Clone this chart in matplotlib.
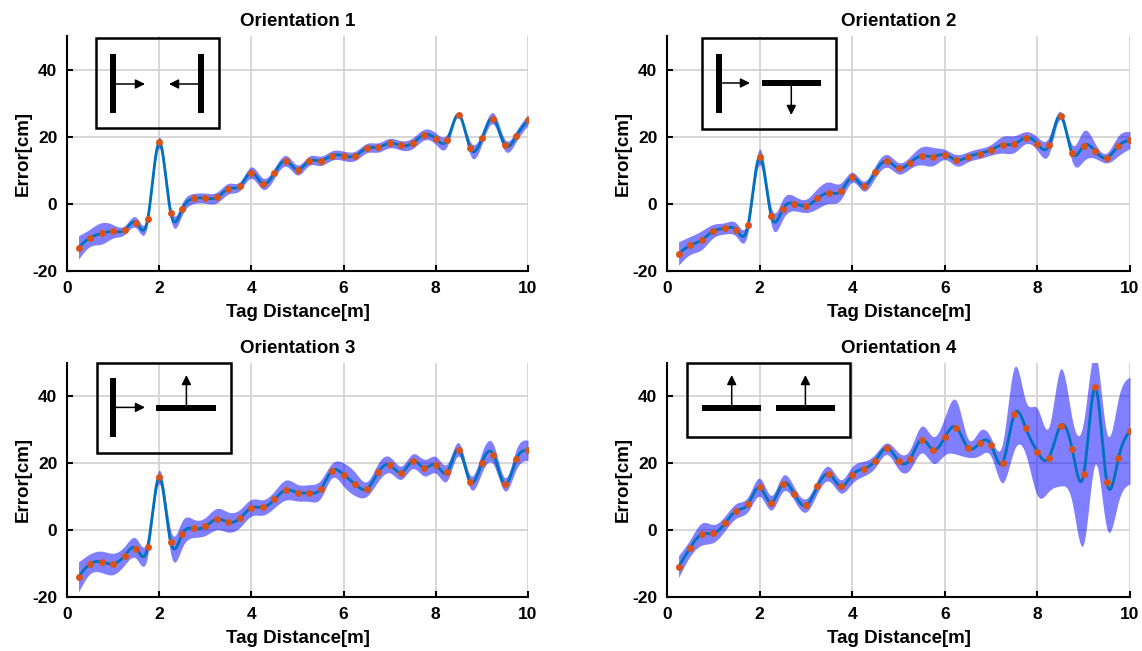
import numpy as np
import matplotlib
matplotlib.use("Agg")
import matplotlib.pyplot as plt
from matplotlib.patches import Rectangle

plt.rcParams['font.family'] = ['Liberation Sans', 'DejaVu Sans']
plt.rcParams['font.weight'] = 'bold'
plt.rcParams['axes.unicode_minus'] = False

# tag distance [m]
dist = np.arange(1, 41) * 0.25

# measured error [cm] per orientation
err1 = [-13.0, -10.1, -8.8, -8.2, -7.8, -5.6, -4.6, 18.3, -2.7, -1.5,
        1.6, 1.7, 1.9, 4.5, 5.3, 9.3, 6.0, 9.2, 12.8, 10.1,
        12.8, 12.8, 14.4, 14.3, 14.3, 16.6, 16.8, 18.1, 17.4, 18.1,
        20.6, 19.4, 19.1, 26.6, 16.5, 19.5, 25.4, 17.5, 20.3, 25.0]
err2 = [-14.8, -12.4, -10.8, -8.1, -7.3, -7.8, -6.4, 14.0, -3.5, -1.6,
        0.1, -0.6, 1.6, 3.3, 3.7, 7.9, 5.3, 9.6, 12.8, 10.6,
        12.3, 14.3, 14.1, 14.7, 13.0, 14.0, 15.0, 16.1, 17.6, 17.8,
        19.7, 17.9, 17.4, 26.3, 15.1, 17.3, 15.7, 13.7, 17.3, 19.0]
err3 = [-14.0, -10.1, -9.5, -10.1, -7.6, -5.5, -5.1, 15.9, -3.6, -1.2,
        0.5, 1.1, 3.3, 2.4, 3.5, 6.7, 6.8, 9.2, 12.0, 11.2,
        11.1, 12.2, 17.8, 16.6, 13.8, 12.3, 17.3, 19.5, 17.2, 20.6,
        18.7, 19.5, 17.4, 24.1, 14.4, 20.2, 22.6, 13.7, 21.3, 23.9]
err4 = [-10.9, -5.3, -1.2, -1.0, 2.0, 5.8, 7.8, 12.8, 8.2, 13.9,
        10.8, 7.4, 13.1, 16.8, 13.1, 16.5, 18.4, 20.8, 24.6, 20.7,
        21.2, 27.1, 24.0, 27.8, 30.7, 24.6, 26.0, 25.5, 20.2, 34.6,
        30.5, 23.4, 21.7, 31.2, 24.3, 16.7, 42.7, 14.5, 21.5, 29.8]

# confidence band width above / below the fit [cm]
band1 = [3.5, 2.6, 3.2, 2.0, 1.3, 1.6, 1.4, 1.6, 1.8, 1.8,
         1.5, 1.5, 1.6, 1.6, 1.3, 1.7, 1.7, 1.5, 1.6, 1.5,
         1.4, 1.4, 1.4, 1.4, 1.4, 1.4, 1.4, 1.4, 1.4, 1.6,
         1.6, 1.7, 1.8, 0.6, 2.0, 1.7, 1.7, 1.7, 1.6, 1.6]
band2 = [3.5, 2.7, 2.8, 2.0, 1.7, 2.0, 2.0, 2.3, 2.6, 3.0,
         2.2, 2.0, 3.0, 3.2, 2.5, 1.5, 1.5, 1.8, 1.9, 1.7,
         1.8, 2.7, 2.7, 1.5, 1.7, 1.5, 1.5, 1.6, 2.5, 2.5,
         1.8, 2.0, 2.5, 1.2, 2.5, 4.5, 2.2, 1.5, 3.0, 2.5]
band3 = [4.5, 3.0, 3.2, 3.2, 2.8, 3.0, 2.6, 2.0, 3.5, 4.0,
         2.7, 2.7, 3.2, 3.0, 2.7, 2.5, 2.3, 2.5, 3.0, 2.5,
         2.5, 2.7, 2.2, 3.5, 3.5, 2.2, 2.7, 2.4, 2.0, 2.2,
         2.5, 2.5, 2.5, 2.0, 2.0, 3.0, 3.0, 2.0, 3.0, 3.0]
band4_up = [3.3, 2.5, 3.3, 2.7, 2.2, 2.2, 2.2, 2.7, 2.2, 2.4,
            2.0, 2.0, 2.0, 2.2, 2.0, 2.5, 2.2, 2.0, 1.5, 2.5,
            3.0, 4.0, 4.0, 6.0, 8.0, 2.8, 3.7, 2.0, 6.0, 14.0,
            8.0, 13.0, 9.3, 17.0, 9.0, 16.0, 10.0, 14.5, 18.0, 16.0]
band4_dn = [3.3, 2.5, 3.3, 2.7, 2.2, 2.2, 2.2, 2.7, 2.2, 2.4,
            2.0, 2.0, 2.0, 2.2, 2.0, 2.5, 2.2, 2.0, 2.0, 2.5,
            3.0, 4.0, 4.0, 5.3, 8.0, 2.8, 3.7, 3.5, 6.0, 10.6,
            8.0, 13.0, 10.0, 18.0, 16.0, 20.7, 23.0, 14.0, 13.0, 16.0]

titles = ['Orientation 1', 'Orientation 2', 'Orientation 3', 'Orientation 4']


def spline(x, y, xs):
    # natural cubic spline
    x = np.asarray(x, float)
    y = np.asarray(y, float)
    n = len(x)
    h = np.diff(x)
    A = np.zeros((n, n))
    r = np.zeros(n)
    A[0, 0] = A[-1, -1] = 1
    for i in range(1, n - 1):
        A[i, i - 1] = h[i - 1]
        A[i, i] = 2 * (h[i - 1] + h[i])
        A[i, i + 1] = h[i]
        r[i] = 3 * ((y[i + 1] - y[i]) / h[i] - (y[i] - y[i - 1]) / h[i - 1])
    c = np.linalg.solve(A, r)
    b = np.diff(y) / h - h * (2 * c[:-1] + c[1:]) / 3
    d = np.diff(c) / (3 * h)
    idx = np.clip(np.searchsorted(x, xs) - 1, 0, n - 2)
    t = xs - x[idx]
    return y[idx] + b[idx] * t + c[idx] * t ** 2 + d[idx] * t ** 3


fig = plt.figure(figsize=(11.42, 6.51), dpi=100)
W, H = 1142, 651

# axes boxes in pixels: left, top, right, bottom
boxes = [(67, 36, 528, 271), (667, 36, 1130, 271),
         (67, 363, 528, 597), (667, 363, 1130, 597)]
data = [(err1, band1, band1), (err2, band2, band2),
        (err3, band3, band3), (err4, band4_up, band4_dn)]

xs = np.linspace(dist[0], dist[-1], 1200)
for (l, t, r, b), (e, up, dn), title in zip(boxes, data, titles):
    ax = fig.add_axes([l / W, 1 - b / H, (r - l) / W, (b - t) / H])
    fit = spline(dist, e, xs)
    hu = np.clip(spline(dist, up, xs), 0.3, None)
    hd = np.clip(spline(dist, dn, xs), 0.3, None)
    ax.fill_between(xs, fit - hd, fit + hu, color=(0, 0, 1), alpha=0.5,
                    lw=0, zorder=2)
    ax.plot(xs, fit, color='#0072BD', lw=2.0, zorder=3)
    ax.plot(dist, e, 'o', color='#D95319', ms=5, mec='none', zorder=4)
    ax.set_xlim(0, 10)
    ax.set_ylim(-20, 50)
    ax.set_xticks([0, 2, 4, 6, 8, 10])
    ax.set_yticks([-20, 0, 20, 40])
    ax.grid(True, color='#d4d4d4', lw=1.3)
    ax.set_axisbelow(True)
    for s in ['top', 'right']:
        ax.spines[s].set_visible(False)
    for s in ['left', 'bottom']:
        ax.spines[s].set_linewidth(1.5)
    ax.tick_params(direction='in', length=4, width=1.5, labelsize=12.5, pad=7)
    ax.set_title(title, fontsize=13.5, fontweight='bold', pad=7)
    ax.set_xlabel('Tag Distance[m]', fontsize=13.5, fontweight='bold', labelpad=6)
    ax.set_ylabel('Error[cm]', fontsize=13.5, fontweight='bold', labelpad=0)


def inset(x0, y0, w, h):
    ia = fig.add_axes([x0 / W, 1 - (y0 + h) / H, w / W, h / H])
    ia.set_xlim(0, w)
    ia.set_ylim(h, 0)
    ia.set_axis_off()
    ia.patch.set_alpha(0)
    ia.add_patch(Rectangle((0, 0), w, h, fill=False, lw=1.8, ec='k',
                           clip_on=False))
    return ia


def vbar(ia, u, v0, v1):
    ia.add_patch(Rectangle((u - 3, v0), 6, v1 - v0, color='k', lw=0))


def hbar(ia, u0, u1, v):
    ia.add_patch(Rectangle((u0, v - 2.8), u1 - u0, 5.6, color='k', lw=0))


def arrow(ia, u0, v0, u1, v1):
    ia.annotate('', xy=(u1, v1), xytext=(u0, v0),
                arrowprops=dict(arrowstyle='-|>', lw=1.1, color='k',
                                mutation_scale=14, shrinkA=0, shrinkB=0))


# orientation schematics
ia = inset(96, 38, 123, 90)
vbar(ia, 17, 16, 75)
arrow(ia, 20, 46, 49, 46)
vbar(ia, 105, 16, 75)
arrow(ia, 102, 46, 73, 46)

ia = inset(702, 38, 134, 91)
vbar(ia, 16.5, 16, 74.5)
arrow(ia, 19, 45, 48, 45)
hbar(ia, 60, 119, 45)
arrow(ia, 89.3, 47.7, 89.3, 77)

ia = inset(97, 363, 134, 90)
vbar(ia, 15.6, 15, 74)
arrow(ia, 18.4, 44.4, 48, 44.4)
hbar(ia, 59.4, 118.7, 45)
arrow(ia, 89.4, 43, 89.4, 12)

ia = inset(687, 363, 163, 74)
hbar(ia, 15.3, 74.4, 45)
arrow(ia, 44.7, 43, 44.7, 12)
hbar(ia, 88.7, 148, 45)
arrow(ia, 118.4, 43, 118.4, 12)

fig.savefig('out.png', dpi=100)
